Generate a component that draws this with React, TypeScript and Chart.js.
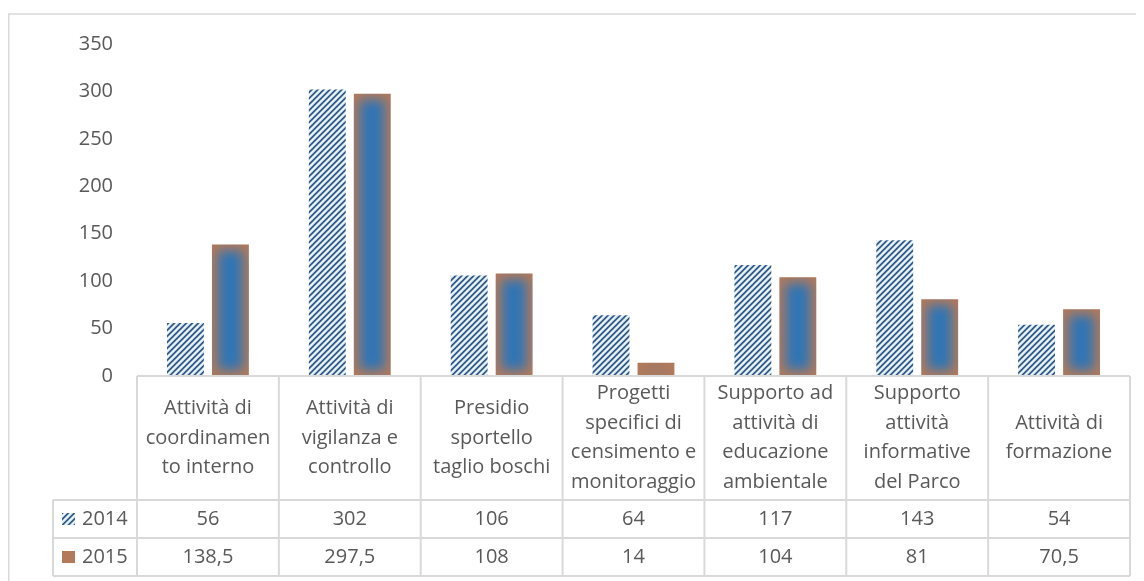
import React, { useEffect, useRef } from "react";
import { Chart, registerables } from "chart.js";

Chart.register(...registerables);

const categories: string[][] = [
  ["Attività di", "coordinamen", "to interno"],
  ["Attività di", "vigilanza e", "controllo"],
  ["Presidio", "sportello", "taglio boschi"],
  ["Progetti", "specifici di", "censimento e", "monitoraggio"],
  ["Supporto ad", "attività di", "educazione", "ambientale"],
  ["Supporto", "attività", "informative", "del Parco"],
  ["Attività di", "formazione"],
];
const seriesNames = ["2014", "2015"];
const values2014 = [56, 302, 106, 64, 117, 143, 54];
const values2015 = [138.5, 297.5, 108, 14, 104, 81, 70.5];
const yTicks = [0, 50, 100, 150, 200, 250, 300, 350];

const FONT = "'Open Sans', sans-serif";
const TEXT = "#595959";
const LINE = "#d9d9d9";
const BROWN = "#b27a5b";
const BLUE = "#2f75b5";

function makePattern(): CanvasPattern | string {
  const s = 6;
  const c = document.createElement("canvas");
  c.width = s;
  c.height = s;
  const cx = c.getContext("2d");
  if (!cx) return "#5b87b8";
  const img = cx.createImageData(s, s);
  const cols: number[][] = [
    [56, 84, 122],
    [68, 100, 140],
    [160, 198, 234],
    [250, 252, 255],
    [225, 236, 248],
    [160, 198, 234],
  ];
  for (let y = 0; y < s; y++) {
    for (let x = 0; x < s; x++) {
      const d = (x + y) % s;
      const col = cols[d];
      const i = (y * s + x) * 4;
      img.data[i] = col[0];
      img.data[i + 1] = col[1];
      img.data[i + 2] = col[2];
      img.data[i + 3] = 255;
    }
  }
  cx.putImageData(img, 0, 0);
  return cx.createPattern(c, "repeat") || "#5b87b8";
}

const fmt = (v: number) => String(v).replace(".", ",");

export default function App() {
  const ref = useRef<HTMLCanvasElement>(null);
  useEffect(() => {
    if (!ref.current) return;
    const pattern = makePattern();

    const glowPlugin = {
      id: "glow",
      afterDatasetsDraw(chart: any) {
        const ctx = chart.ctx;
        const meta = chart.getDatasetMeta(1);
        meta.data.forEach((bar: any) => {
          const left = bar.x - bar.width / 2;
          const top = Math.min(bar.y, bar.base);
          const h = Math.abs(bar.base - bar.y);
          const w = bar.width;
          ctx.save();
          ctx.beginPath();
          ctx.rect(left, top, w, h);
          ctx.clip();
          ctx.filter = "blur(6px)";
          ctx.fillStyle = BLUE;
          const inset = Math.min(6, h / 2);
          ctx.fillRect(left + 6, top + inset, w - 12, h - inset * 2);
          ctx.restore();
        });
      },
    };

    const tablePlugin = {
      id: "table",
      afterDraw(chart: any) {
        const ctx = chart.ctx;
        const a = chart.chartArea;
        const n = categories.length;
        const colW = (a.right - a.left) / n;
        const headTop = a.bottom;
        const headBottom = 492;
        const row1 = 530;
        const row2 = 568;
        const labelLeft = 45;
        ctx.save();
        ctx.strokeStyle = LINE;
        ctx.lineWidth = 1.5;
        ctx.beginPath();
        ctx.moveTo(0.75, 600);
        ctx.lineTo(0.75, 6);
        ctx.lineTo(2000, 6);
        ctx.stroke();

        ctx.lineWidth = 2;
        ctx.beginPath();
        ctx.moveTo(a.left, headTop);
        ctx.lineTo(a.right, headTop);
        for (let i = 0; i <= n; i++) {
          const x = a.left + i * colW;
          ctx.moveTo(x, headTop);
          ctx.lineTo(x, row2);
        }
        [headBottom, row1, row2].forEach((y) => {
          ctx.moveTo(labelLeft, y);
          ctx.lineTo(a.right, y);
        });
        ctx.moveTo(labelLeft, headBottom);
        ctx.lineTo(labelLeft, row2);
        ctx.stroke();

        ctx.fillStyle = TEXT;
        ctx.font = `20px ${FONT}`;
        ctx.textAlign = "center";
        ctx.textBaseline = "middle";
        const hc = (headTop + headBottom) / 2;
        const lh = 29.5;
        categories.forEach((lines, i) => {
          const cx = chart.scales.x.getPixelForValue(i);
          lines.forEach((t, j) => {
            const y = hc + (j - (lines.length - 1) / 2) * lh;
            ctx.fillText(t, cx, y);
          });
          ctx.fillText(fmt(values2014[i]), cx, (headBottom + row1) / 2);
          ctx.fillText(fmt(values2015[i]), cx, (row1 + row2) / 2);
        });

        const rows = [(headBottom + row1) / 2, (row1 + row2) / 2];
        rows.forEach((y, k) => {
          ctx.fillStyle = k === 0 ? (pattern as any) : BROWN;
          ctx.fillRect(54, y - 6, 13, 12);
          ctx.fillStyle = TEXT;
          ctx.textAlign = "left";
          ctx.fillText(seriesNames[k], 74, y);
        });
        ctx.restore();
      },
    };

    const chart = new Chart(ref.current, {
      type: "bar",
      data: {
        labels: categories.map((c) => c.join(" ")),
        datasets: [
          {
            label: seriesNames[0],
            data: values2014,
            backgroundColor: pattern as any,
            borderWidth: 0,
            barPercentage: 0.82,
            categoryPercentage: 0.634,
          },
          {
            label: seriesNames[1],
            data: values2015,
            backgroundColor: BROWN,
            borderWidth: 0,
            barPercentage: 0.82,
            categoryPercentage: 0.634,
          },
        ],
      },
      options: {
        animation: false,
        responsive: false,
        maintainAspectRatio: false,
        layout: { padding: { top: 35, bottom: 205, left: 0, right: 14 } },
        plugins: { legend: { display: false }, tooltip: { enabled: false } },
        scales: {
          x: { display: false },
          y: {
            min: 0,
            max: 350,
            afterBuildTicks: (scale: any) => {
              scale.ticks = yTicks.map((v) => ({ value: v }));
            },
            afterFit: (scale: any) => {
              scale.width = 129;
            },
            grid: { display: false, drawTicks: false },
            border: { display: false },
            ticks: {
              padding: 24,
              color: TEXT,
              font: { family: "'Open Sans', sans-serif", size: 20 },
            },
          },
        },
      },
      plugins: [glowPlugin, tablePlugin],
    });
    return () => chart.destroy();
  }, []);
  return (
    <canvas
      ref={ref}
      width={1136}
      height={573}
      style={{ display: "block", width: 1136, height: 573 }}
    />
  );
}
